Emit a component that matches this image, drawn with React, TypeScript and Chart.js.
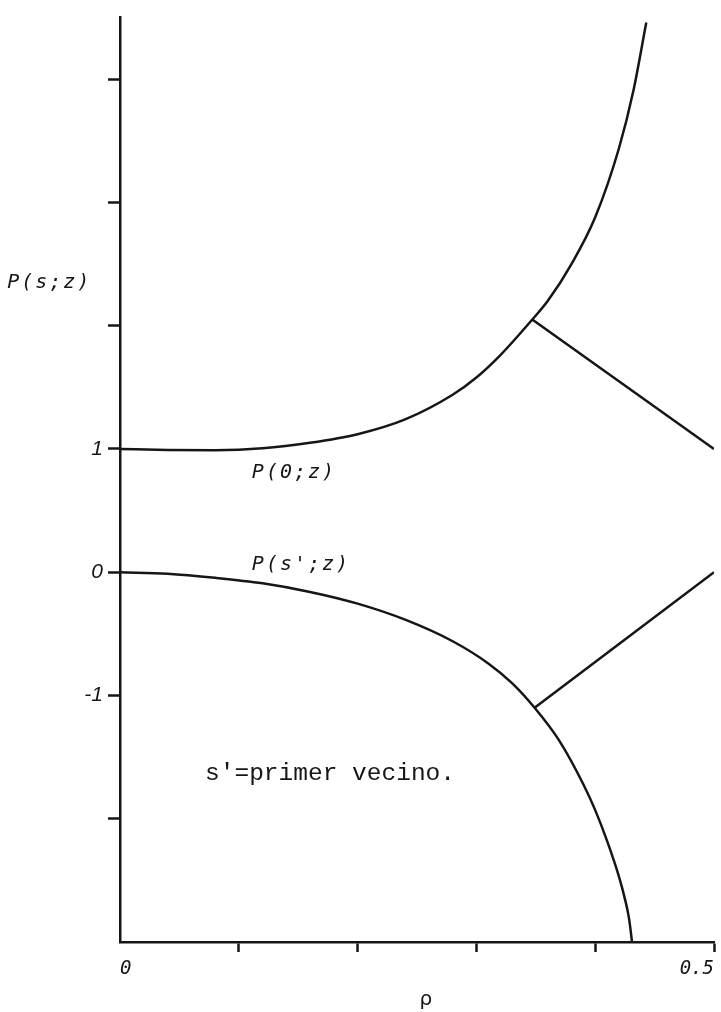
import React, { useEffect, useRef } from "react";
import { Chart, registerables } from "chart.js";

Chart.register(...registerables);

// P(0;z) as a function of rho
const rhoUpper = [0, 0.04, 0.08, 0.12, 0.16, 0.2, 0.24, 0.28, 0.3, 0.32, 0.347, 0.36, 0.38, 0.4, 0.42, 0.432, 0.443];
const pUpper = [1.0, 0.992, 0.99, 1.005, 1.05, 1.12, 1.24, 1.44, 1.58, 1.76, 2.05, 2.2, 2.5, 2.88, 3.44, 3.9, 4.46];

// branch leaving the upper curve
const rhoUpperBranch = [0.347, 0.5];
const pUpperBranch = [2.05, 1.0];

// P(s';z) as a function of rho
const rhoLower = [0, 0.04, 0.08, 0.12, 0.16, 0.2, 0.24, 0.28, 0.31, 0.33, 0.349, 0.37, 0.39, 0.4, 0.41, 0.42, 0.425, 0.4285, 0.431];
const pLower = [0, -0.012, -0.045, -0.09, -0.16, -0.255, -0.385, -0.56, -0.74, -0.9, -1.1, -1.37, -1.72, -1.93, -2.18, -2.47, -2.65, -2.81, -3.0];

// branch leaving the lower curve
const rhoLowerBranch = [0.349, 0.5];
const pLowerBranch = [-1.1, 0.0];

// axis ticks
const xTickValues = [0, 0.1, 0.2, 0.3, 0.4, 0.5];
const xTickLabels = ["0", "", "", "", "", "0.5"];
const yTickValues = [-2, -1, 0, 1, 2, 3, 4];
const yTickLabels = ["", "-1", "0", "1", "", "", ""];

const INK = "#161616";

const toPoints = (xs: number[], ys: number[]) => xs.map((x, i) => ({ x, y: ys[i] }));

// free text placed in data coordinates
const notes = [
  { text: "P(s;z)", x: -0.095, y: 2.35, font: "italic 20px 'DejaVu Sans Mono'", spacing: "2px" },
  { text: "P(0;z)", x: 0.111, y: 0.81, font: "italic 20px 'DejaVu Sans Mono'", spacing: "2px" },
  { text: "P(s';z)", x: 0.111, y: 0.064, font: "italic 20px 'DejaVu Sans Mono'", spacing: "2px" },
  { text: "s'=primer vecino.", x: 0.0716, y: -1.63, font: "24.5px 'Liberation Mono'", spacing: "0px" },
  { text: "\u03c1", x: 0.252, y: -3.47, font: "20px 'DejaVu Sans'", spacing: "0px" },
];

const notesPlugin = {
  id: "notes",
  afterDraw(chart: any) {
    const { ctx, scales } = chart;
    ctx.save();
    ctx.fillStyle = INK;
    ctx.textAlign = "left";
    ctx.textBaseline = "middle";
    for (const n of notes) {
      ctx.font = n.font;
      (ctx as any).letterSpacing = n.spacing;
      ctx.fillText(n.text, scales.x.getPixelForValue(n.x), scales.y.getPixelForValue(n.y));
    }
    ctx.restore();
  },
};

export default function App() {
  const canvasRef = useRef<HTMLCanvasElement | null>(null);

  useEffect(() => {
    if (!canvasRef.current) return;
    const line = (xs: number[], ys: number[]) => ({
      data: toPoints(xs, ys),
      showLine: true,
      borderColor: INK,
      borderWidth: 2.5,
      pointRadius: 0,
      fill: false,
      cubicInterpolationMode: "monotone" as const,
    });

    const chart = new Chart(canvasRef.current, {
      type: "scatter",
      data: {
        datasets: [
          line(rhoUpper, pUpper),
          line(rhoUpperBranch, pUpperBranch),
          line(rhoLower, pLower),
          line(rhoLowerBranch, pLowerBranch),
        ],
      },
      options: {
        animation: false,
        responsive: false,
        devicePixelRatio: 1,
        layout: { padding: { left: 0, right: 7, top: 10, bottom: 0 } },
        plugins: { legend: { display: false }, tooltip: { enabled: false } },
        scales: {
          x: {
            type: "linear",
            min: 0,
            max: 0.5,
            afterBuildTicks: (scale: any) => {
              scale.ticks = xTickValues.map((value) => ({ value }));
            },
            afterFit: (scale: any) => {
              scale.height = 70;
            },
            border: { display: true, color: INK, width: 2.5 },
            grid: {
              display: true,
              drawOnChartArea: false,
              drawTicks: true,
              tickLength: 10,
              tickWidth: 2.5,
              tickColor: (ctx: any) => (ctx.tick && ctx.tick.value === 0 ? "rgba(0,0,0,0)" : INK),
            },
            ticks: {
              align: "inner",
              padding: 6,
              color: INK,
              maxRotation: 0,
              autoSkip: false,
              font: { family: "'DejaVu Sans Mono'", style: "italic", size: 19 },
              callback: (_v: any, i: number) => xTickLabels[i],
            },
          },
          y: {
            type: "linear",
            min: -3,
            max: 4.5,
            afterBuildTicks: (scale: any) => {
              scale.ticks = yTickValues.map((value) => ({ value }));
            },
            afterFit: (scale: any) => {
              scale.width = 120;
            },
            border: { display: true, color: INK, width: 2.5 },
            grid: {
              display: true,
              drawOnChartArea: false,
              drawTicks: true,
              tickLength: 12,
              tickWidth: 2.5,
              tickColor: INK,
            },
            ticks: {
              padding: 5,
              color: INK,
              autoSkip: false,
              font: { family: "'Liberation Sans'", style: "italic", size: 21 },
              callback: (_v: any, i: number) => yTickLabels[i],
            },
          },
        },
      },
      plugins: [notesPlugin],
    });
    return () => chart.destroy();
  }, []);

  return (
    <div style={{ position: "fixed", left: 0, top: 0, width: 721, height: 1012, background: "#fff" }}>
      <canvas ref={canvasRef} width={721} height={1012} style={{ width: 721, height: 1012, display: "block" }} />
    </div>
  );
}
